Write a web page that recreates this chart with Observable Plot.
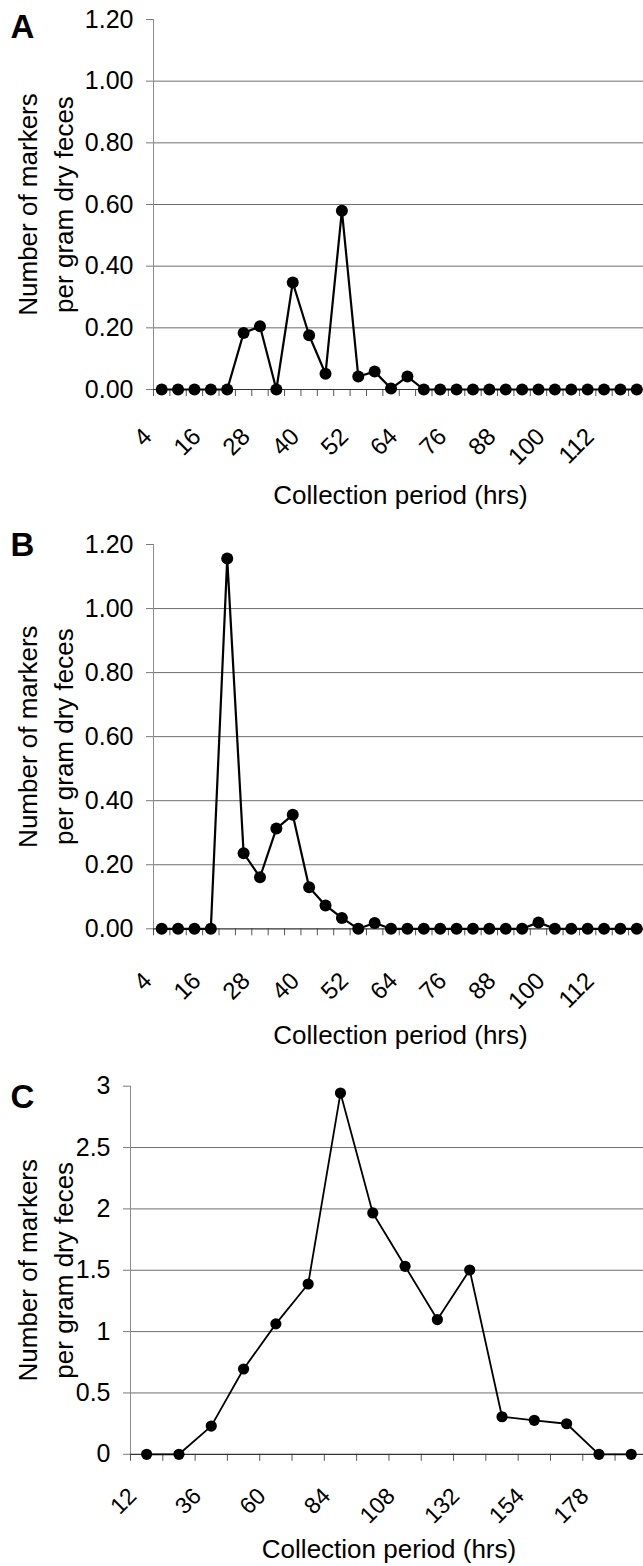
<!DOCTYPE html>
<html><head><meta charset="utf-8">
<script src="https://cdn.jsdelivr.net/npm/d3@7"></script>
<script src="https://cdn.jsdelivr.net/npm/@observablehq/plot@0.6"></script>
<style>
html,body{margin:0;padding:0;background:#fff;overflow:hidden;}
#chart{width:643px;}
#chart svg{display:block;}
</style></head><body><div id="chart"></div>
<script>
const hoursAB = [4,8,12,16,20,24,28,32,36,40,44,48,52,56,60,64,68,72,76,80,84,88,92,96,100,104,108,112,116,120];
const valuesA = [0,0,0,0,0,0.183,0.205,0,0.347,0.176,0.051,0.580,0.042,0.058,0.003,0.042,0,0,0,0,0,0,0,0,0,0,0,0,0,0];
const valuesB = [0,0,0,0,1.156,0.236,0.161,0.313,0.356,0.130,0.073,0.034,0,0.018,0,0,0,0,0,0,0,0,0,0.02,0,0,0,0,0,0];
const xTickLabelsAB = [4,16,28,40,52,64,76,88,100,112];
const yTicksAB = [0,0.2,0.4,0.6,0.8,1.0,1.2];
const yTickLabelsAB = ["0.00","0.20","0.40","0.60","0.80","1.00","1.20"];
const gridAB = [0.2,0.4,0.6,0.8,1.0];

const hoursC = [12,24,36,48,60,72,84,96,108,120,132,144,154,166,178,190];
const valuesC = [0,0,0.23,0.695,1.063,1.388,2.944,1.967,1.532,1.098,1.502,0.306,0.277,0.249,0,0];
const xTickLabelsC = [12,36,60,84,108,132,154,178];
const yTicksC = [0,0.5,1,1.5,2,2.5,3];
const yTickLabelsC = ["0","0.5","1","1.5","2","2.5","3"];
const gridC = [0.5,1,1.5,2,2.5];

const yTitle = "Number of markers\nper gram dry feces";
const xTitle = "Collection period (hrs)";
const FONT = "'Liberation Sans', Arial, Helvetica, sans-serif";

function panel(c) {
  const data = c.values.map((v, i) => ({i, h: c.hours[i], v}));
  const labelIdx = c.labels.map(l => c.hours.indexOf(l));
  const bounds = c.hours.map((h, i) => i - 0.5).concat([c.hours.length - 0.5]);
  const yMax = c.yTicks[c.yTicks.length - 1];
  return Plot.plot({
    width: 643, height: c.height,
    marginTop: c.mt, marginBottom: c.mb, marginLeft: c.ml, marginRight: 0,
    style: {fontFamily: FONT, background: "#fff", overflow: "visible", color: "#000"},
    x: {domain: [-0.5, c.xMax], axis: null},
    y: {domain: [0, yMax], axis: null},
    marks: [
      Plot.ruleY(c.grid, {stroke: "#6e6e6e", strokeWidth: 1}),
      Plot.ruleX([-0.5], {y1: 0, y2: yMax, stroke: "#8c8c8c", strokeWidth: 1}),
      Plot.axisY({ticks: c.yTicks, tickFormat: d => c.yLabels[c.yTicks.indexOf(d)], tickSize: 7, tickPadding: 13, fontSize: 25, stroke: "#7a7a7a", anchor: "left", label: null}),
      Plot.axisX({ticks: bounds, tickSize: 7, tickFormat: () => "", stroke: "#555", label: null}),
      Plot.axisX({ticks: labelIdx, tickFormat: i => String(c.hours[i]), tickSize: 0, tickPadding: c.labelPad, tickRotate: -45, fontSize: c.xFont, dx: -14, label: null}),
      Plot.ruleY([0], {stroke: "#333", strokeWidth: 1.2}),
      Plot.line(data, {x: "i", y: "v", stroke: "#000", strokeWidth: c.sw}),
      Plot.dot(data, {x: "i", y: "v", r: c.r, fill: "#000", stroke: "none"}),
      Plot.text([yTitle], {frameAnchor: "left", dx: 43 - c.ml, rotate: -90, textAnchor: "middle", fontSize: 26, lineHeight: 1.38, fill: "#000"}),
      Plot.text([xTitle], {frameAnchor: "bottom", dy: c.xTitleDy, dx: 2, lineAnchor: "top", fontSize: 26, fill: "#000"}),
      Plot.text([c.letter], {frameAnchor: "top-left", dx: 10 - c.ml, dy: c.letterDy, textAnchor: "start", lineAnchor: "top", fontSize: 33, fontWeight: "bold", fill: "#000"})
    ]
  });
}

const chart = document.getElementById("chart");
chart.append(panel({letter: "A", hours: hoursAB, values: valuesA, labels: xTickLabelsAB, yTicks: yTicksAB, yLabels: yTickLabelsAB, grid: gridAB,
  height: 520, mt: 19, mb: 131, ml: 153, xMax: 29.41, labelPad: 43, xFont: 24, xTitleDy: 96, letterDy: -5, r: 6, sw: 2.2}));
chart.append(panel({letter: "B", hours: hoursAB, values: valuesB, labels: xTickLabelsAB, yTicks: yTicksAB, yLabels: yTickLabelsAB, grid: gridAB,
  height: 530, mt: 24, mb: 121.7, ml: 153, xMax: 29.41, labelPad: 48, xFont: 24, xTitleDy: 97, letterDy: -12, r: 6, sw: 2.2}));
chart.append(panel({letter: "C", hours: hoursC, values: valuesC, labels: xTickLabelsC, yTicks: yTicksC, yLabels: yTickLabelsC, grid: gridC,
  height: 516, mt: 35.7, mb: 112.2, ml: 130, xMax: 15.38, labelPad: 38, xFont: 23, xTitleDy: 85, letterDy: -2, r: 5.6, sw: 1.8}));
</script></body></html>
